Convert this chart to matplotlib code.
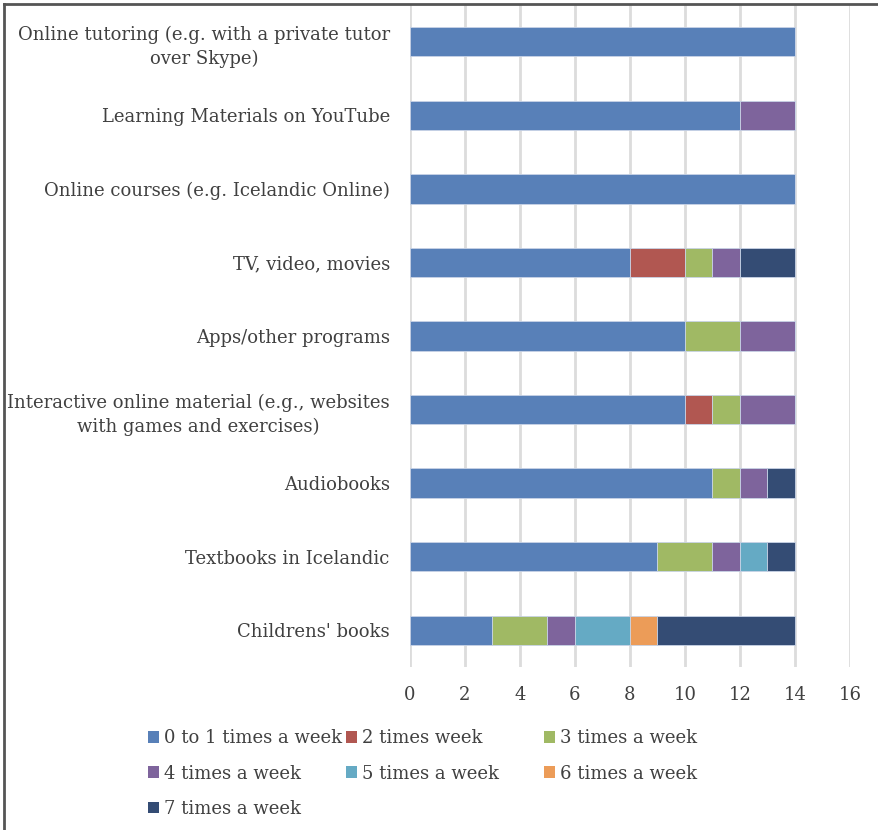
import matplotlib
matplotlib.use("Agg")
import matplotlib.pyplot as plt
from matplotlib.patches import Patch
from matplotlib.lines import Line2D

categories = [
    "Online tutoring (e.g. with a private tutor\nover Skype)",
    "Learning Materials on YouTube",
    "Online courses (e.g. Icelandic Online)",
    "TV, video, movies",
    "Apps/other programs",
    "Interactive online material (e.g., websites\nwith games and exercises)",
    "Audiobooks",
    "Textbooks in Icelandic",
    "Childrens' books",
]
series_names = [
    "0 to 1 times a week", "2 times week", "3 times a week",
    "4 times a week", "5 times a week", "6 times a week", "7 times a week",
]
s0 = [14, 12, 14, 8, 10, 10, 11, 9, 3]
s1 = [0, 0, 0, 2, 0, 1, 0, 0, 0]
s2 = [0, 0, 0, 1, 2, 1, 1, 2, 2]
s3 = [0, 2, 0, 1, 2, 2, 1, 1, 1]
s4 = [0, 0, 0, 0, 0, 0, 0, 1, 2]
s5 = [0, 0, 0, 0, 0, 0, 0, 0, 1]
s6 = [0, 0, 0, 2, 0, 0, 1, 1, 5]
series = [s0, s1, s2, s3, s4, s5, s6]
colors = ["#5880B8", "#B15751", "#A0B964", "#7E649C", "#65AAC4", "#EC9C58", "#344C74"]
xticks = [0, 2, 4, 6, 8, 10, 12, 14, 16]

plt.rcParams["font.family"] = ["DejaVu Serif"]

fig = plt.figure(figsize=(8.79, 8.30), dpi=100)
ax = fig.add_axes([410 / 879, 1 - 667 / 830, 440 / 879, 662 / 830])

ypos = list(range(len(categories)))
left = [0] * len(categories)
handles = []
for vals, c, name in zip(series, colors, series_names):
    ax.barh(ypos, vals, left=left, height=0.4, color=c,
            edgecolor="#C8D3E6", linewidth=0.6, zorder=3)
    left = [a + b for a, b in zip(left, vals)]
    handles.append(Patch(facecolor=c, edgecolor="none", label=name))

ax.set_ylim(len(categories) - 0.5, -0.5)
ax.set_xlim(0, 16)
ax.set_xticks(xticks)
ax.set_yticks(ypos)
ax.set_yticklabels(categories, fontsize=13, color="#404040", ha="right",
                   multialignment="center", linespacing=1.45)
ax.tick_params(axis="x", labelsize=13, colors="#404040", length=0, pad=14)
ax.tick_params(axis="y", length=0, pad=14.5)
ax.grid(axis="x", color="#DCDCDC", linewidth=2, zorder=0)
for sp in ax.spines.values():
    sp.set_visible(False)

columns = [[0, 3, 6], [1, 4], [2, 5]]
col_x = [141, 339, 537]
for idxs, cx in zip(columns, col_x):
    lg = fig.legend([handles[i] for i in idxs], [series_names[i] for i in idxs],
                    loc="upper left", bbox_to_anchor=(cx / 879, 1 - 722 / 830),
                    frameon=False, fontsize=13, handlelength=0.6, handleheight=0.6,
                    handletextpad=0.3, labelspacing=0.96, borderaxespad=0,
                    labelcolor="#404040")

# outer frame (top and left edges)
fig.add_artist(Line2D([4 / 879, 4 / 879], [0, 1 - 4 / 830], color="#555555",
                      linewidth=2, transform=fig.transFigure))
fig.add_artist(Line2D([4 / 879, 1], [1 - 4 / 830, 1 - 4 / 830], color="#555555",
                      linewidth=2, transform=fig.transFigure))

fig.savefig("out.png", dpi=100)
